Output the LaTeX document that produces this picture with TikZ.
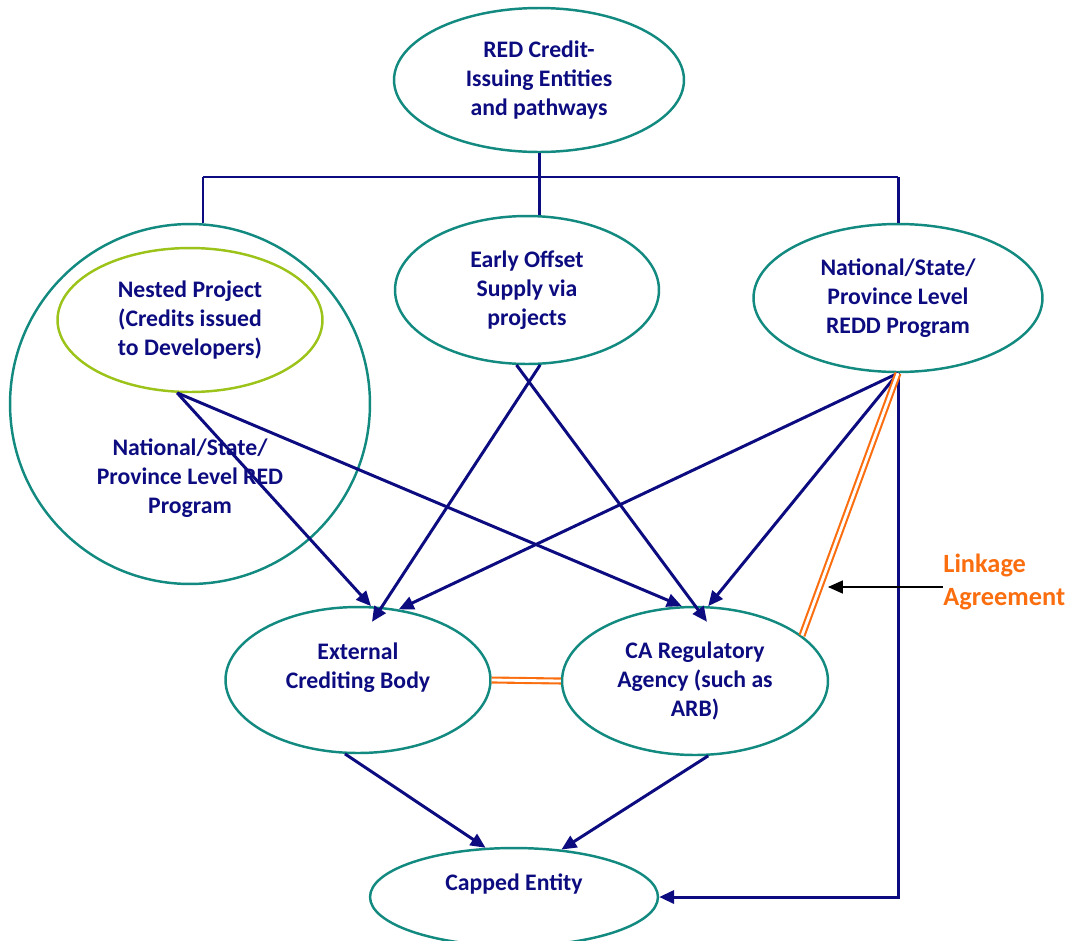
\documentclass[tikz,border=0pt]{standalone}
\usepackage{fontspec}
\setmainfont{Carlito}
\usetikzlibrary{shapes.geometric,arrows.meta}

\definecolor{navy}{RGB}{12,12,128}
\definecolor{tealline}{RGB}{18,138,128}
\definecolor{limeline}{RGB}{155,195,25}
\definecolor{linkorange}{RGB}{250,110,15}

\tikzset{
  entitytext/.style={text=navy, font=\fontsize{13.5}{16.4}\selectfont\bfseries, align=center},
  entity/.style={ellipse, draw=tealline, line width=1.4pt, inner sep=0pt, entitytext},
  branch/.style={draw=navy, line width=1.7pt},
  flow/.style={branch, -{Triangle[length=8.5pt,width=7.5pt]}},
  agreement/.style={draw=linkorange, double=white, line width=1.2pt, double distance=1.6pt},
  pointer/.style={draw=black, line width=0.6pt, -{Triangle[length=8.5pt,width=7.5pt]}}
}

\begin{document}
\begin{tikzpicture}[x=0.02cm, y=-0.02cm]
\useasboundingbox (0,0) rectangle (1071,940);

% entities
\node[entity, minimum width=5.8cm, minimum height=2.88cm] (top) at (539,80) {RED Credit-\\Issuing Entities\\and pathways};
\node[entity, circle, minimum size=7.2cm] (bigprog) at (190,404) {};
\node[entity, draw=limeline, minimum width=5.3cm, minimum height=2.88cm] (nested) at (190,320) {Nested Project\\(Credits issued\\to Developers)};
\node[entitytext] (bigprogtext) at (190,478) {National/State/\\Province Level RED\\Program};
\node[entity, minimum width=5.28cm, minimum height=2.96cm] (early) at (527,290) {Early Offset\\Supply via\\projects};
\node[entity, minimum width=5.78cm, minimum height=2.96cm] (national) at (898,298) {National/State/\\Province Level\\REDD Program};
\node[entity, minimum width=5.3cm, minimum height=2.92cm] (external) at (358,680) {External\\Crediting Body\\\mbox{}};
\node[entity, minimum width=5.32cm, minimum height=2.96cm] (caregulator) at (695,681) {CA Regulatory\\Agency (such as\\ARB)};
\node[entity, minimum width=5.76cm, minimum height=1.96cm] (capped) at (514,897) {Capped Entity\\\mbox{}};
\node[entitytext, font=\fontsize{15}{18.7}\selectfont\bfseries, text=linkorange, align=left, anchor=west, inner sep=0pt] (linkage) at (943,582) {Linkage\\Agreement};

% tree from the top
\coordinate (barL) at (203,177);
\coordinate (barR) at (898,177);
\draw[branch] (barL) -- (barR);
\draw[branch] (top.south) -- (top.south |- early.north);
\draw[branch] (barL) -- (barL |- bigprog.north);
\draw[branch] (barR) -- (national.north);

% credit flows
\draw[flow] (nested.260) -- (external.80);
\draw[flow] (nested.260) -- (caregulator.100);
\draw[flow] (early.280) -- ([xshift=0.28cm,yshift=-0.32cm]external.north);
\draw[flow] (early.262) -- ([xshift=0.24cm,yshift=-0.32cm]caregulator.north);
\draw[flow] (national.south) -- (external.60);
\draw[flow] (national.south) -- (caregulator.80);
\draw[flow] (national.south) |- (capped.east);
\draw[flow] (external.260) -- (capped.120);
\draw[flow] (caregulator.280) -- (capped.45);

% linkage agreements
\draw[agreement] (external.east) -- (caregulator.west);
\draw[agreement] (national.south) -- (caregulator.23);
\coordinate (agreetip) at (828,587);
\draw[pointer] (linkage.west |- agreetip) -- (agreetip);
\end{tikzpicture}
\end{document}
